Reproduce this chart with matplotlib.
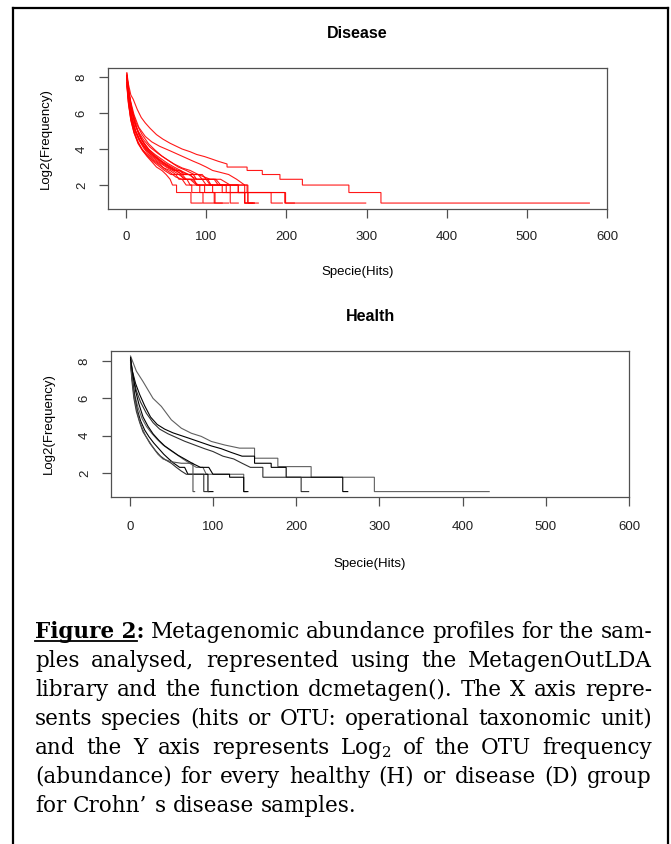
import matplotlib
matplotlib.use("Agg")
import matplotlib.pyplot as plt
from matplotlib.lines import Line2D

plt.rcParams['font.family'] = ['Liberation Sans', 'DejaVu Sans']
plt.rcParams['mathtext.fontset'] = 'dejavuserif'

# ---------------- data (rank, log2 frequency) ----------------
x_ticks = [0, 100, 200, 300, 400, 500, 600]
y_ticks = [2, 4, 6, 8]

disease_x = [
    [1, 3, 6, 9, 14, 19, 24, 30, 38, 46, 55, 62, 70, 80, 88, 98, 106, 115, 126, 126, 151, 151, 170, 170, 192, 192, 220, 220, 278, 278, 318, 318, 578],
    [1, 3, 6, 10, 16, 24, 32, 42, 55, 65, 75, 84, 92, 100, 108, 118, 128, 138, 148, 151, 151, 199, 199, 299],
    [1, 3, 6, 10, 15, 20, 26, 33, 40, 47, 55, 62, 68, 72, 85, 88, 108, 108, 130, 130, 140],
    [1, 3, 7, 11, 16, 22, 29, 37, 45, 53, 61, 70, 78, 90, 95, 110, 115, 148, 148, 150],
    [1, 4, 8, 12, 17, 24, 31, 38, 45, 52, 60, 68, 72, 84, 88, 102, 106, 140, 140, 148, 148, 158],
    [1, 3, 6, 10, 15, 21, 27, 34, 41, 48, 56, 62, 66, 76, 80, 92, 92, 110, 110, 120],
    [1, 4, 8, 13, 20, 28, 36, 45, 55, 65, 75, 85, 95, 100, 112, 118, 152, 152, 160],
    [1, 3, 6, 10, 16, 22, 30, 38, 46, 54, 62, 70, 80, 85, 95, 100, 130, 130, 198, 198, 210],
    [1, 3, 6, 10, 15, 22, 30, 40, 50, 60, 70, 80, 90, 105, 118, 130, 140, 140, 181, 181, 195],
    [1, 4, 8, 13, 20, 28, 36, 44, 52, 60, 68, 78, 88, 100, 105, 125, 125, 152, 152, 165],
    [1, 3, 7, 12, 18, 24, 32, 40, 50, 58, 66, 74, 82, 90, 120, 120, 148, 148, 160],
    [1, 4, 8, 12, 18, 25, 32, 40, 47, 55, 62, 70, 75, 80, 88, 98, 98, 111, 111, 128],
    [1, 3, 6, 10, 16, 22, 28, 35, 42, 48, 55, 62, 70, 75, 82, 82, 96, 96, 110],
    [1, 3, 6, 10, 15, 20, 26, 32, 38, 45, 50, 55, 58, 63, 63, 81, 81, 95],
]
disease_y = [
    [8.24, 7.6, 7.0, 6.76, 6.2, 5.75, 5.45, 5.15, 4.8, 4.55, 4.32, 4.17, 4.0, 3.85, 3.7, 3.58, 3.46, 3.32, 3.17, 3.0, 3.0, 2.81, 2.81, 2.585, 2.585, 2.32, 2.32, 2.0, 2.0, 1.585, 1.585, 1.0, 1.0],
    [8.1, 7.4, 6.6, 5.9, 5.2, 4.7, 4.4, 4.15, 3.9, 3.7, 3.5, 3.32, 3.17, 3.0, 2.81, 2.7, 2.585, 2.32, 2.0, 2.0, 1.585, 1.585, 1.0, 1.0],
    [7.7, 6.6, 5.7, 5.0, 4.4, 4.0, 3.7, 3.4, 3.17, 2.95, 2.81, 2.585, 2.585, 2.32, 2.32, 2.0, 2.0, 1.585, 1.585, 1.0, 1.0],
    [8.1, 7.1, 6.1, 5.4, 4.8, 4.35, 3.95, 3.6, 3.32, 3.1, 2.9, 2.7, 2.585, 2.585, 2.32, 2.32, 2.0, 2.0, 1.0, 1.0],
    [7.9, 6.7, 5.7, 5.0, 4.5, 4.05, 3.7, 3.45, 3.2, 3.0, 2.81, 2.81, 2.585, 2.585, 2.32, 2.32, 2.0, 2.0, 1.585, 1.585, 1.0, 1.0],
    [7.5, 6.5, 5.6, 4.9, 4.35, 3.9, 3.6, 3.3, 3.05, 2.81, 2.585, 2.585, 2.32, 2.32, 2.0, 2.0, 1.585, 1.585, 1.0, 1.0],
    [8.0, 7.0, 6.1, 5.4, 4.8, 4.3, 3.95, 3.6, 3.3, 3.0, 2.81, 2.585, 2.585, 2.32, 2.32, 2.0, 2.0, 1.0, 1.0],
    [7.7, 6.8, 5.9, 5.2, 4.6, 4.2, 3.8, 3.5, 3.25, 3.0, 2.81, 2.585, 2.585, 2.32, 2.32, 2.0, 2.0, 1.585, 1.585, 1.0, 1.0],
    [8.2, 7.3, 6.4, 5.6, 5.0, 4.5, 4.1, 3.75, 3.45, 3.17, 2.95, 2.81, 2.585, 2.32, 2.32, 2.0, 2.0, 1.585, 1.585, 1.0, 1.0],
    [8.0, 6.9, 6.0, 5.2, 4.5, 4.0, 3.7, 3.45, 3.2, 3.0, 2.81, 2.585, 2.32, 2.32, 2.0, 2.0, 1.585, 1.585, 1.0, 1.0],
    [7.8, 6.8, 5.8, 5.0, 4.4, 4.0, 3.6, 3.3, 3.0, 2.81, 2.585, 2.32, 2.32, 2.0, 2.0, 1.585, 1.585, 1.0, 1.0],
    [8.1, 7.0, 6.0, 5.3, 4.6, 4.1, 3.75, 3.45, 3.2, 3.0, 2.8, 2.585, 2.32, 2.32, 2.0, 2.0, 1.585, 1.585, 1.0, 1.0],
    [7.9, 6.9, 5.9, 5.1, 4.5, 4.05, 3.7, 3.4, 3.17, 2.9, 2.7, 2.45, 2.32, 2.0, 2.0, 1.585, 1.585, 1.0, 1.0],
    [7.6, 6.6, 5.6, 4.9, 4.3, 3.95, 3.6, 3.3, 3.0, 2.8, 2.585, 2.32, 2.0, 2.0, 1.585, 1.585, 1.0, 1.0],
]

health_x = [
    [1, 8, 16, 28, 38, 50, 62, 74, 86, 98, 114, 132, 150, 150, 178, 178, 218, 218, 294, 294, 432],
    [1, 3, 7, 12, 18, 25, 33, 42, 52, 62, 72, 85, 98, 110, 122, 135, 150, 150, 170, 170, 188, 188, 256, 256, 262],
    [1, 4, 8, 13, 20, 28, 36, 46, 56, 66, 78, 90, 100, 112, 125, 135, 145, 160, 160, 206, 206, 215],
    [1, 3, 6, 10, 15, 20, 26, 33, 40, 48, 56, 64, 72, 80, 88, 92, 137, 137, 140],
    [1, 3, 6, 9, 13, 18, 23, 29, 35, 41, 47, 53, 60, 66, 70, 94, 94, 100],
    [1, 3, 5, 8, 12, 16, 21, 26, 31, 37, 43, 50, 56, 62, 68, 89, 89, 95],
    [1, 3, 5, 8, 11, 15, 19, 24, 29, 34, 40, 50, 62, 76, 76, 78],
    [1, 4, 7, 11, 16, 22, 28, 35, 42, 50, 58, 66, 75, 85, 95, 100, 120, 120, 137, 137, 142],
]
health_y = [
    [8.27, 7.46, 6.9, 6.0, 5.57, 4.85, 4.4, 4.13, 3.96, 3.69, 3.5, 3.33, 3.33, 2.79, 2.79, 2.34, 2.34, 1.77, 1.77, 1.0, 1.0],
    [8.2, 7.5, 6.8, 6.2, 5.6, 5.0, 4.6, 4.35, 4.15, 4.0, 3.85, 3.65, 3.45, 3.3, 3.1, 2.9, 2.9, 2.52, 2.52, 2.3, 2.3, 1.77, 1.77, 1.0, 1.0],
    [8.0, 7.2, 6.4, 5.8, 5.2, 4.7, 4.35, 4.1, 3.9, 3.7, 3.5, 3.3, 3.15, 2.9, 2.75, 2.52, 2.3, 2.3, 1.77, 1.77, 1.0, 1.0],
    [7.9, 7.0, 6.2, 5.5, 4.9, 4.5, 4.15, 3.8, 3.5, 3.24, 3.0, 2.75, 2.52, 2.3, 2.3, 1.93, 1.93, 1.0, 1.0],
    [8.1, 7.1, 6.1, 5.4, 4.8, 4.3, 3.95, 3.6, 3.3, 3.0, 2.75, 2.52, 2.3, 2.3, 1.93, 1.93, 1.0, 1.0],
    [7.8, 6.8, 6.0, 5.3, 4.7, 4.2, 3.85, 3.5, 3.2, 2.9, 2.7, 2.52, 2.3, 2.1, 1.93, 1.93, 1.0, 1.0],
    [8.0, 7.0, 6.2, 5.5, 4.9, 4.4, 4.0, 3.6, 3.3, 3.0, 2.75, 2.6, 2.52, 2.52, 1.0, 1.0],
    [8.1, 7.2, 6.4, 5.7, 5.0, 4.5, 4.1, 3.75, 3.45, 3.2, 2.95, 2.75, 2.52, 2.3, 2.3, 1.93, 1.93, 1.77, 1.77, 1.0, 1.0],
]
health_colors = ['#606060', '#000000', '#303030', '#606060', '#000000', '#303030', '#505050', '#000000']

caption_lines = [
    ["Figure 2:", "Metagenomic", "abundance", "profiles", "for", "the", "sam-"],
    ["ples", "analysed,", "represented", "using", "the", "MetagenOutLDA"],
    ["library", "and", "the", "function", "dcmetagen().", "The", "X", "axis", "repre-"],
    ["sents", "species", "(hits", "or", "OTU:", "operational", "taxonomic", "unit)"],
    ["and", "the", "Y", "axis", "represents", "Log$_2$", "of", "the", "OTU", "frequency"],
    ["(abundance)", "for", "every", "healthy", "(H)", "or", "disease", "(D)", "group"],
    ["for", "Crohn\u2019", "s", "disease", "samples."],
]

# ---------------- figure ----------------
W, H = 671, 844
fig = plt.figure(figsize=(W / 100, H / 100), dpi=100)
fig.patch.set_facecolor('white')

def fx(px):
    return px / W

def fy(py):
    return 1 - py / H

# outer frame
frame_kw = dict(color='black', lw=1.6, transform=fig.transFigure)
fig.add_artist(Line2D([fx(13), fx(13)], [fy(8), 0], **frame_kw))
fig.add_artist(Line2D([fx(13), fx(668)], [fy(8), fy(8)], **frame_kw))
fig.add_artist(Line2D([fx(668), fx(668)], [fy(8), 0], **frame_kw))


def style_axes(ax, title, ylim, xlabelpad, xpad):
    ax.set_xlim(-22.5, 600)
    ax.set_ylim(*ylim)
    ax.set_xticks(x_ticks)
    ax.set_yticks(y_ticks)
    ax.set_xticklabels([str(t) for t in x_ticks])
    ax.set_yticklabels([str(t) for t in y_ticks])
    for s in ax.spines.values():
        s.set_color('#505050')
        s.set_linewidth(0.9)
    ax.tick_params(axis='both', direction='out', length=6.5, width=0.9, color='#505050',
                   labelsize=9.5, labelcolor='#222222')
    ax.tick_params(axis='x', pad=xpad)
    ax.tick_params(axis='y', pad=8, labelrotation=90)
    for lab in ax.get_yticklabels():
        lab.set_va('center')
    ax.set_title(title, fontsize=11.5, fontweight='bold', pad=21.5)
    ax.set_xlabel("Specie(Hits)", fontsize=9.5, labelpad=xlabelpad)
    ax.set_ylabel("Log2(Frequency)", fontsize=9.5, labelpad=17)


ax1 = fig.add_axes([fx(108), fy(209), fx(607) - fx(108), (209 - 68) / H])
for xs, ys in zip(disease_x, disease_y):
    ax1.plot(xs, ys, color='red', lw=0.8, alpha=0.9, solid_joinstyle='miter')
style_axes(ax1, "Disease", (0.67, 8.5), 17, 9)

ax2 = fig.add_axes([fx(111), fy(497), fx(629) - fx(111), (497 - 351) / H])
for xs, ys, c in zip(health_x, health_y, health_colors):
    ax2.plot(xs, ys, color=c, lw=0.8, solid_joinstyle='miter')
style_axes(ax2, "Health", (0.71, 8.54), 18, 11)

# ---------------- caption (justified) ----------------
cap_left, cap_right = 35, 652
last_line_width = 322
baseline0, line_gap = 638, 29
cap_family = 'DejaVu Serif'
fig.canvas.draw()
renderer = fig.canvas.get_renderer()

# choose font size so that the last (unjustified) line has the reference width
probe = fig.text(0, 0, " ".join(caption_lines[-1]), fontsize=14, family=cap_family)
pw = probe.get_window_extent(renderer).width
probe.remove()
cap_size = 14 * last_line_width / pw

for i, words in enumerate(caption_lines):
    arts = []
    for j, w in enumerate(words):
        bold = (i == 0 and j == 0)
        t = fig.text(0, fy(baseline0 + i * line_gap), w, fontsize=cap_size,
                     family=cap_family, fontweight='bold' if bold else 'normal',
                     ha='left', va='baseline', color='black')
        arts.append(t)
    widths = [a.get_window_extent(renderer).width for a in arts]
    if i < len(caption_lines) - 1:
        gap = (cap_right - cap_left - sum(widths)) / (len(words) - 1)
    else:
        sp = fig.text(0, 0, "a a", fontsize=cap_size, family=cap_family)
        sp2 = fig.text(0, 0, "aa", fontsize=cap_size, family=cap_family)
        gap = sp.get_window_extent(renderer).width - sp2.get_window_extent(renderer).width
        sp.remove(); sp2.remove()
    x = cap_left
    for a, w in zip(arts, widths):
        a.set_x(fx(x))
        x += w + gap
    if i == 0:
        tmp = fig.text(0, 0, "Figure 2", fontsize=cap_size, family=cap_family, fontweight='bold')
        uw = tmp.get_window_extent(renderer).width
        tmp.remove()
        yb = fy(baseline0 + 3)
        fig.add_artist(Line2D([fx(cap_left), fx(cap_left + uw)], [yb, yb], color='black', lw=1.3,
                              transform=fig.transFigure))

fig.savefig("out.png", dpi=100, facecolor='white')
